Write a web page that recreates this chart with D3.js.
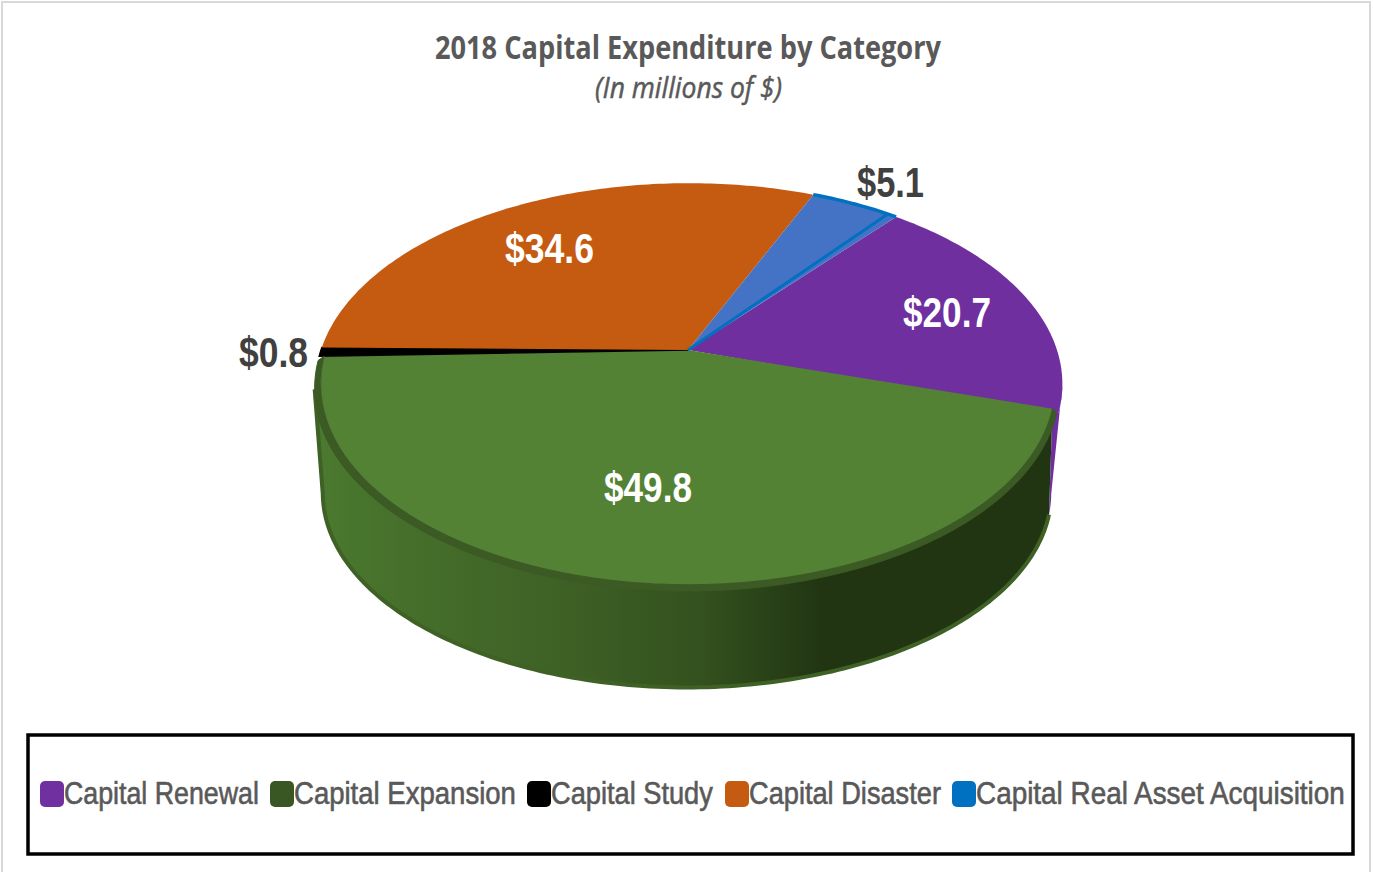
<!DOCTYPE html>
<html>
<head>
<meta charset="utf-8">
<script src="https://cdn.jsdelivr.net/npm/d3@7/dist/d3.min.js"></script>
<style>
html, body { margin: 0; padding: 0; background: #fff; }
svg { display: block; }
text { font-family: "Liberation Sans", sans-serif; }
.title { font-family: "Open Sans", sans-serif; }
</style>
</head>
<body>
<svg width="1373" height="872"></svg>
<script>
var categories = ["Capital Renewal", "Capital Expansion", "Capital Study", "Capital Disaster", "Capital Real Asset Acquisition"];
var values = [20.7, 49.8, 0.8, 34.6, 5.1];
var valueLabels = ["$20.7", "$49.8", "$0.8", "$34.6", "$5.1"];
var faceColors = ["#6f2f9f", "#548235", "#000000", "#c55a11", "#4472c4"];
var legendColors = ["#7030a0", "#385723", "#000000", "#c55a11", "#0070c0"];

var svg = d3.select("svg"),
  width = +svg.attr("width"),
  height = +svg.attr("height");

// page frame
svg.append("rect").attr("x", 2).attr("y", 2).attr("width", width - 5).attr("height", height + 10)
  .attr("fill", "#fff").attr("stroke", "#d9d9d9").attr("stroke-width", 2);

// pie plane seen in perspective: far edge is squeezed, near edge is stretched
var tilt = -0.169;
function project(cx, cy, kx, ky) {
  return function(a) {
    var u = Math.sin(a), v = -Math.cos(a), w = 1 + tilt * v;
    return [cx + kx * u / w, cy + ky * v / w];
  };
}
var rad = Math.PI / 180;
var apex = [688, 350];
var faceAt = project(689, 350, 368, 195);
var greenFaceAt = project(688, 350, 362, 195);
var rimAt = project(687, 354, 367, 197);
var baseAt = project(687, 460, 359, 189);

var pie = d3.pie().sort(null).value(function(d) { return d; })
  .startAngle(39.5 * rad)
  .endAngle((39.5 + 360) * rad);
var arcs = pie(values);

var line = d3.line();
function arcPoints(f, a0, a1) {
  var n = Math.max(2, Math.ceil(Math.abs(a1 - a0) * 60));
  return d3.range(n + 1).map(function(i) { return f(a0 + (a1 - a0) * i / n); });
}
function band(f1, f2, a0, a1) {
  return line(arcPoints(f1, a0, a1).concat(arcPoints(f2, a1, a0))) + "Z";
}

var defs = svg.append("defs");
var grad = defs.append("linearGradient").attr("id", "wall").attr("gradientUnits", "userSpaceOnUse")
  .attr("x1", 316).attr("x2", 1060).attr("y1", 0).attr("y2", 0);
[[0, "#4a7a2f"], [0.12, "#466f2b"], [0.35, "#3d5f25"], [0.52, "#33511e"], [0.68, "#213513"], [1, "#213513"]]
  .forEach(function(s) { grad.append("stop").attr("offset", s[0]).attr("stop-color", s[1]); });

var green = arcs[1], purple = arcs[0];
var silhouetteR = 100 * rad, silhouetteL = 260 * rad, wallEnd = 106 * rad;

// purple sliver of side wall, tucked behind the green wall
svg.append("path")
  .attr("d", line(arcPoints(faceAt, purple.endAngle + 0.02, silhouetteR)
    .concat(arcPoints(baseAt, silhouetteR, wallEnd))
    .concat([greenFaceAt(purple.endAngle)])) + "Z")
  .attr("fill", faceColors[0]);

// green side wall runs between the two silhouette tangents
var wallTop = arcPoints(greenFaceAt, green.startAngle, silhouetteL).concat([rimAt(silhouetteL)]);
var wallBottom = arcPoints(baseAt, silhouetteL, wallEnd);
svg.append("path").attr("d", line(wallTop.concat(wallBottom)) + "Z").attr("fill", "url(#wall)");

// lighter outer edge along the bottom
svg.append("path").attr("d", line([rimAt(silhouetteL)].concat(wallBottom)))
  .attr("fill", "none").attr("stroke", "#3f6126").attr("stroke-width", 4).attr("stroke-linejoin", "round");

// top face slices, green one is inset so its rim shows; purple runs under it
svg.append("g").selectAll("path").data(arcs).enter().append("path")
  .attr("d", function(d, i) {
    var f = i == 1 ? greenFaceAt : faceAt;
    var end = i == 0 ? d.endAngle + 0.02 : d.endAngle;
    return line(arcPoints(f, d.startAngle, end).concat([apex])) + "Z";
  })
  .attr("fill", function(d, i) { return faceColors[i]; })
  .attr("stroke", function(d, i) { return i == 2 ? "#000" : "none"; })
  .attr("stroke-width", 1.5);

// rim around the green face
svg.append("path").attr("d", band(rimAt, greenFaceAt, green.startAngle, green.endAngle))
  .attr("fill", "#3b5a24").attr("stroke", "#3b5a24").attr("stroke-width", 1).attr("stroke-linejoin", "round");

// bright blue edge of small slice
var blue = arcs[4];
svg.append("path").attr("d", line(arcPoints(faceAt, blue.startAngle, blue.endAngle)))
  .attr("fill", "none").attr("stroke", "#0070c0").attr("stroke-width", 3.5);
svg.append("path").attr("d", line([apex, faceAt(blue.endAngle - 0.03)]))
  .attr("fill", "none").attr("stroke", "#0070c0").attr("stroke-width", 3);

// value labels
var labelX = [903, 604, 239, 505, 857];
var labelY = [312, 487, 352, 248, 182];
var labelW = [88, 88, 69, 89, 67];
var labelFill = ["#fff", "#fff", "#404040", "#fff", "#404040"];
svg.append("g").selectAll("text").data(valueLabels).enter().append("text")
  .attr("x", function(d, i) { return labelX[i]; })
  .attr("y", function(d, i) { return labelY[i]; })
  .attr("dy", "0.36em")
  .attr("font-size", 42).attr("font-weight", "bold")
  .attr("textLength", function(d, i) { return labelW[i]; }).attr("lengthAdjust", "spacingAndGlyphs")
  .attr("fill", function(d, i) { return labelFill[i]; })
  .text(function(d) { return d; });

// titles
svg.append("text").attr("class", "title").attr("x", 435).attr("y", 59)
  .attr("font-size", 32).attr("font-weight", "bold").attr("fill", "#595959")
  .attr("textLength", 506).attr("lengthAdjust", "spacingAndGlyphs")
  .text("2018 Capital Expenditure by Category");
svg.append("text").attr("class", "title").attr("x", 595).attr("y", 98)
  .attr("font-size", 29).attr("font-style", "italic").attr("fill", "#595959")
  .attr("stroke", "#595959").attr("stroke-width", 0.5)
  .attr("textLength", 187).attr("lengthAdjust", "spacingAndGlyphs")
  .text("(In millions of $)");

// legend
svg.append("rect").attr("x", 28).attr("y", 735).attr("width", 1325).attr("height", 119)
  .attr("fill", "#fff").attr("stroke", "#000").attr("stroke-width", 3.5);
var legendX = [40, 270, 527, 725, 952];
var legendW = [195, 222, 162, 192, 369];
var legend = svg.append("g").selectAll("g").data(categories).enter().append("g")
  .attr("transform", function(d, i) { return "translate(" + legendX[i] + ",781)"; });
legend.append("rect").attr("width", 24).attr("height", 26).attr("rx", 5)
  .attr("fill", function(d, i) { return legendColors[i]; });
legend.append("text")
  .attr("font-size", 31).attr("fill", "#595959")
  .attr("stroke", "#595959").attr("stroke-width", 0.6)
  .text(function(d) { return d; })
  .attr("transform", function(d, i) {
    // squeeze to the width the legend entry has in the chart
    return "translate(24,23) scale(" + legendW[i] / this.getComputedTextLength() + ",1)";
  });
</script>
</body>
</html>
